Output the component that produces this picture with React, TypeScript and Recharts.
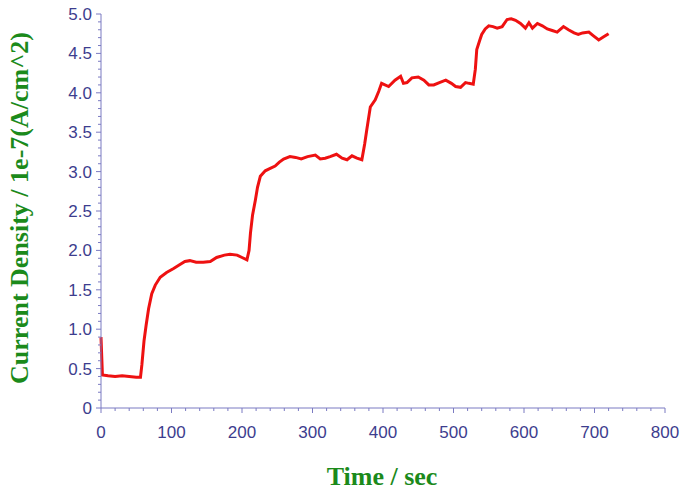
import { LineChart, Line, XAxis, YAxis, Label } from "recharts";

const times = [
  0, 2, 10, 20, 30, 40, 50, 56, 58, 61, 64, 67.5, 72, 77, 84, 93, 103, 112, 119, 126,
  135, 145, 155, 164, 175, 183, 193, 200, 207, 210, 212, 215, 219, 222, 226, 233, 240, 247, 253, 259,
  268, 276, 284, 293, 304, 311, 318, 325, 334, 342, 349, 356, 363, 370, 374, 377, 382, 389, 394, 398,
  408, 417, 425, 429, 434, 441, 450, 458, 465, 472, 480, 489, 497, 503, 510, 517, 522, 528, 531, 533,
  537, 540, 545, 550, 556, 562, 569, 576, 582, 588, 595, 602, 607, 612, 619, 626, 633, 640, 647, 656,
  663, 671, 677, 683, 692, 699, 706, 713, 720,
];

const density = [
  0.9, 0.42, 0.41, 0.4, 0.41, 0.4, 0.39, 0.39, 0.55, 0.85, 1.05, 1.26, 1.45, 1.56, 1.66, 1.72, 1.77, 1.82, 1.86, 1.87,
  1.85, 1.85, 1.86, 1.91, 1.94, 1.95, 1.94, 1.91, 1.88, 2.0, 2.22, 2.45, 2.64, 2.8, 2.94, 3.01, 3.04, 3.07, 3.12, 3.16,
  3.19, 3.18, 3.16, 3.19, 3.21, 3.16, 3.17, 3.19, 3.22, 3.17, 3.15, 3.2, 3.17, 3.15, 3.35, 3.53, 3.82, 3.91, 4.02, 4.12,
  4.08, 4.16, 4.21, 4.12, 4.13, 4.19, 4.2, 4.16, 4.1, 4.1, 4.13, 4.16, 4.12, 4.08, 4.07, 4.13, 4.12, 4.11, 4.3, 4.55,
  4.66, 4.74, 4.81, 4.85, 4.84, 4.82, 4.84, 4.93, 4.94, 4.92, 4.88, 4.82, 4.89, 4.82, 4.88, 4.85, 4.81, 4.79, 4.77, 4.84,
  4.8, 4.76, 4.74, 4.76, 4.77, 4.72, 4.67, 4.71, 4.75,
];

const xMajor = [0, 100, 200, 300, 400, 500, 600, 700, 800];
const yMajor = [0, 0.5, 1, 1.5, 2, 2.5, 3, 3.5, 4, 4.5, 5];

// minor ticks: every 20 on x, every 0.1 on y
const xTicks = Array.from({ length: 41 }, (_, i) => i * 20);
const yTicks = Array.from({ length: 51 }, (_, i) => Math.round(i) / 10);

const data = times.map((t, i) => ({ t, v: density[i] }));

const AXIS = "#7b7bc2";
const TICK_TEXT = "#3d3d8e";
const GREEN = "#1b8a1b";

const isXMajor = (v: number) => xMajor.includes(v);
const isYMajor = (v: number) => yMajor.some((m) => Math.abs(m - v) < 1e-6);

function BottomTick({ x, y, payload }: any) {
  const major = isXMajor(payload.value);
  return (
    <g>
      <line x1={x} y1={y} x2={x} y2={y + (major ? 5 : 3)} stroke={AXIS} />
      {major && (
        <text x={x} y={y + 30} textAnchor="middle" fill={TICK_TEXT} fontSize={17} fontFamily="Liberation Sans, Arial">
          {payload.value}
        </text>
      )}
    </g>
  );
}

function TopTick({ x, y, payload }: any) {
  const major = isXMajor(payload.value);
  return <line x1={x} y1={y} x2={x} y2={y - (major ? 5 : 3)} stroke={AXIS} />;
}

function LeftTick({ x, y, payload }: any) {
  const major = isYMajor(payload.value);
  return (
    <g>
      <line x1={x} y1={y} x2={x - (major ? 5 : 3)} y2={y} stroke={AXIS} />
      {major && (
        <text x={x - 9} y={y} dy={6} textAnchor="end" fill={TICK_TEXT} fontSize={17} fontFamily="Liberation Sans, Arial">
          {payload.value === 0 ? "0" : payload.value.toFixed(1)}
        </text>
      )}
    </g>
  );
}

function RightTick({ x, y, payload }: any) {
  const major = isYMajor(payload.value);
  return <line x1={x} y1={y} x2={x + (major ? 5 : 3)} y2={y} stroke={AXIS} />;
}

export default function App() {
  return (
    <div style={{ position: "absolute", left: 0, top: 0, background: "#fff" }}>
      <LineChart width={683} height={496} data={data} margin={{ top: 14, right: 18, bottom: 48, left: 41 }}>
        <XAxis
          dataKey="t"
          type="number"
          domain={[0, 800]}
          ticks={xTicks}
          interval={0}
          stroke={AXIS}
          tickLine={false}
          tickSize={0}
          tickMargin={0}
          height={40}
          tick={<BottomTick />}
        >
          <Label
            content={() => (
              <text x={382} y={485} textAnchor="middle" fill={GREEN} fontSize={26} fontWeight="bold" fontFamily="Liberation Serif, Times New Roman">
                Time / sec
              </text>
            )}
          />
        </XAxis>
        <XAxis
          xAxisId="top"
          orientation="top"
          dataKey="t"
          type="number"
          domain={[0, 800]}
          ticks={xTicks}
          interval={0}
          stroke={AXIS}
          tickLine={false}
          tickSize={0}
          tickMargin={0}
          height={0}
          tick={<TopTick />}
        />
        <YAxis
          type="number"
          domain={[0, 5]}
          ticks={yTicks}
          interval={0}
          stroke={AXIS}
          tickLine={false}
          tickSize={0}
          tickMargin={0}
          width={60}
          tick={<LeftTick />}
        >
          <Label
            content={() => (
              <text
                x={28}
                y={208}
                transform="rotate(-90 28 208)"
                textAnchor="middle"
                fill={GREEN}
                fontSize={26}
                fontWeight="bold"
                fontFamily="Liberation Serif, Times New Roman"
              >
                Current Density / 1e-7(A/cm^2)
              </text>
            )}
          />
        </YAxis>
        <YAxis
          yAxisId="right"
          orientation="right"
          type="number"
          domain={[0, 5]}
          ticks={yTicks}
          interval={0}
          stroke={AXIS}
          tickLine={false}
          tickSize={0}
          tickMargin={0}
          width={0}
          tick={<RightTick />}
        />
        <Line
          type="linear"
          dataKey="v"
          stroke="#ee1111"
          strokeWidth={3}
          dot={false}
          isAnimationActive={false}
        />
      </LineChart>
    </div>
  );
}
